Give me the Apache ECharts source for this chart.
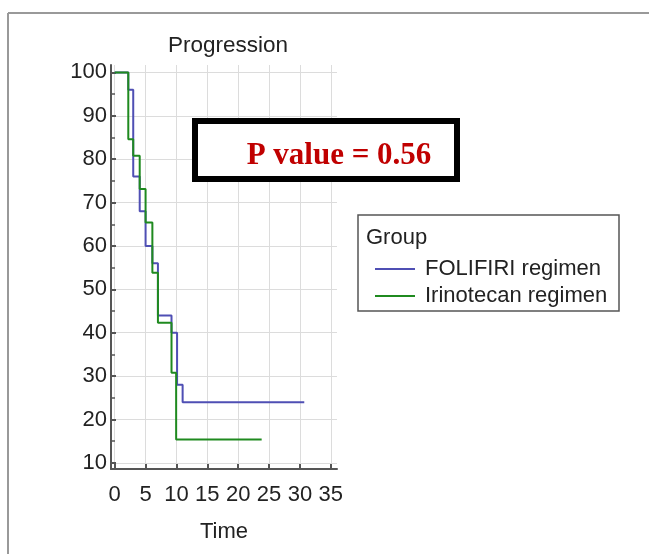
<!DOCTYPE html>
<html>
<head>
<meta charset="utf-8">
<script src="https://cdn.jsdelivr.net/npm/echarts@6/dist/echarts.min.js"></script>
<style>html,body{margin:0;padding:0;background:#fff;}#c{width:649px;height:554px;}</style>
</head>
<body>
<div id="c"></div>
<script>
// Kaplan-Meier step data (time, % progression-free)
const folTimes = [0, 2.2, 3.0, 4.05, 5.0, 6.1, 7.0, 9.2, 10.1, 11.0, 30.7];
const folSurv  = [100, 96, 76, 68, 60, 56, 44, 40, 28, 24, 24];
const iriTimes = [0, 2.2, 3.0, 4.05, 5.0, 6.1, 7.0, 9.2, 9.95, 23.8];
const iriSurv  = [100, 84.6, 80.8, 73.1, 65.4, 53.8, 42.3, 30.8, 15.4, 15.4];
const xTicks = [0, 5, 10, 15, 20, 25, 30, 35];
const yTicks = [10, 20, 30, 40, 50, 60, 70, 80, 90, 100];
const yMinorTicks = [15, 25, 35, 45, 55, 65, 75, 85, 95];
const seriesNames = ['FOLIFIRI regimen', 'Irinotecan regimen'];
const pText = 'P value = 0.56';

const font = 'Liberation Sans';
const pair = (t, s) => t.map((v, i) => [v, s[i]]);

const chart = echarts.init(document.getElementById('c'), null, {renderer: 'canvas'});
chart.setOption({
  animation: false,
  backgroundColor: '#fff',
  title: {
    text: 'Progression', left: 223, top: 29, textAlign: 'center',
    textStyle: {fontFamily: font, fontSize: 22.5, fontWeight: 'normal', color: '#222'}
  },
  grid: {left: 111, right: 312, top: 65, bottom: 85},
  xAxis: {
    type: 'value', min: -0.6, max: 36,
    name: 'Time', nameLocation: 'middle', nameGap: 52,
    nameTextStyle: {fontFamily: font, fontSize: 22, color: '#222'},
    axisLine: {show: true, onZero: false, lineStyle: {color: '#555', width: 2}},
    axisTick: {show: true, inside: true, length: 5, customValues: xTicks, lineStyle: {color: '#555', width: 2}},
    axisLabel: {customValues: xTicks, fontFamily: font, fontSize: 22, color: '#222', margin: 15},
    splitLine: {show: true, lineStyle: {color: '#dcdcdc', width: 1}}
  },
  yAxis: [{
    type: 'value', min: 8.6, max: 101.7,
    axisLine: {show: true, onZero: false, lineStyle: {color: '#555', width: 2}},
    axisTick: {show: true, inside: true, length: 5, customValues: yTicks, lineStyle: {color: '#555', width: 2}},
    axisLabel: {customValues: yTicks, fontFamily: font, fontSize: 22, color: '#222', margin: 4},
    splitLine: {show: true, lineStyle: {color: '#dcdcdc', width: 1}}
  }, {
    type: 'value', min: 8.6, max: 101.7, position: 'left',
    axisLine: {show: false, onZero: false},
    axisTick: {show: true, inside: true, length: 4, customValues: yMinorTicks, lineStyle: {color: '#555', width: 1.5}},
    axisLabel: {show: false},
    splitLine: {show: false}
  }],
  legend: {
    orient: 'vertical', left: 370, top: 253, itemGap: 5,
    itemWidth: 40, itemHeight: 2, icon: 'rect',
    data: seriesNames,
    textStyle: {fontFamily: font, fontSize: 22, color: '#222', padding: [0, 0, 0, 5]}
  },
  series: [{
    name: seriesNames[0], type: 'line', step: 'end', symbol: 'none',
    data: pair(folTimes, folSurv),
    lineStyle: {color: '#4f4fb4', width: 2}, itemStyle: {color: '#4f4fb4'}, z: 3
  }, {
    name: seriesNames[1], type: 'line', step: 'end', symbol: 'none',
    data: pair(iriTimes, iriSurv),
    lineStyle: {color: '#1f8a1f', width: 2}, itemStyle: {color: '#1f8a1f'}, z: 4
  }],
  graphic: [
    {type: 'line', shape: {x1: 8, y1: 13, x2: 649, y2: 13}, style: {stroke: '#999', lineWidth: 2}},
    {type: 'line', shape: {x1: 8, y1: 13, x2: 8, y2: 554}, style: {stroke: '#999', lineWidth: 2}},
    {type: 'rect', shape: {x: 195, y: 121, width: 262, height: 58}, style: {fill: '#fff', stroke: '#000', lineWidth: 6}, z: 100},
    {type: 'text', x: 339, y: 156, z: 101, style: {text: pText, fill: '#c00000', font: 'bold 31px "Liberation Serif"', textAlign: 'center', textVerticalAlign: 'middle'}},
    {type: 'rect', shape: {x: 358, y: 215, width: 261, height: 96}, style: {fill: 'none', stroke: '#555', lineWidth: 1.5}, z: 100},
    {type: 'text', x: 366, y: 238, z: 101, style: {text: 'Group', fill: '#222', font: '22px "Liberation Sans"', textAlign: 'left', textVerticalAlign: 'middle'}}
  ]
});
</script>
</body>
</html>
